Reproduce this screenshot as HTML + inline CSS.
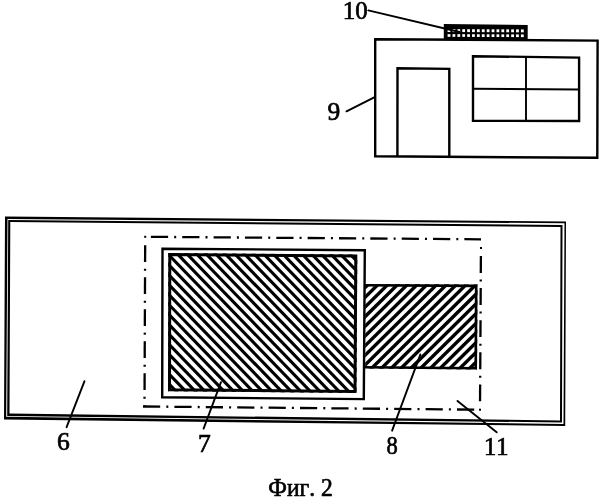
<!DOCTYPE html>
<html><head><meta charset="utf-8"><title>Фиг. 2</title>
<style>html,body{margin:0;padding:0;background:#fff}svg{display:block;will-change:transform}text{font-family:"Liberation Serif","DejaVu Serif",serif;fill:#000;font-kerning:none;stroke:#000;stroke-width:0.65px;paint-order:stroke}</style></head>
<body>
<svg width="604" height="500" viewBox="0 0 604 500">
<rect width="604" height="500" fill="#fff"/>
<polygon points="375.20,39.20 597.60,40.60 597.30,157.80 375.20,156.30" fill="none" stroke="#000" stroke-width="2.4" stroke-linejoin="miter" />
<polyline points="397.4,156.5 397.5,68.2 449.3,68.9 449.3,157" fill="none" stroke="#000" stroke-width="2.4"/>
<polygon points="473.00,56.20 579.10,57.60 579.10,121.00 473.00,120.80" fill="none" stroke="#000" stroke-width="2.4" stroke-linejoin="miter" />
<line x1="526.00" y1="57.00" x2="526.00" y2="121.00" stroke="#000" stroke-width="1.9" />
<line x1="473.00" y1="88.80" x2="579.00" y2="89.60" stroke="#000" stroke-width="2.0" />
<polygon points="443.8,23.9 527.7,24.9 527.7,40.5 443.8,39.5" fill="#000"/>
<rect x="447.60" y="29.12" width="2.8" height="2.90" fill="#fff"/>
<rect x="452.49" y="29.14" width="2.8" height="2.90" fill="#fff"/>
<rect x="457.38" y="29.16" width="2.8" height="2.90" fill="#fff"/>
<rect x="462.27" y="29.18" width="2.8" height="2.90" fill="#fff"/>
<rect x="467.16" y="29.20" width="2.8" height="2.90" fill="#fff"/>
<rect x="472.05" y="29.22" width="2.8" height="2.90" fill="#fff"/>
<rect x="476.94" y="29.24" width="2.8" height="2.90" fill="#fff"/>
<rect x="481.83" y="29.26" width="2.8" height="2.90" fill="#fff"/>
<rect x="486.72" y="29.28" width="2.8" height="2.90" fill="#fff"/>
<rect x="491.61" y="29.30" width="2.8" height="2.90" fill="#fff"/>
<rect x="496.50" y="29.32" width="2.8" height="2.90" fill="#fff"/>
<rect x="501.39" y="29.34" width="2.8" height="2.90" fill="#fff"/>
<rect x="506.28" y="29.36" width="2.8" height="2.90" fill="#fff"/>
<rect x="511.17" y="29.38" width="2.8" height="2.90" fill="#fff"/>
<rect x="516.06" y="29.40" width="2.8" height="2.90" fill="#fff"/>
<rect x="520.95" y="29.42" width="2.8" height="2.90" fill="#fff"/>
<rect x="447.60" y="34.12" width="2.8" height="2.70" fill="#fff"/>
<rect x="452.49" y="34.14" width="2.8" height="2.70" fill="#fff"/>
<rect x="457.38" y="34.16" width="2.8" height="2.70" fill="#fff"/>
<rect x="462.27" y="34.18" width="2.8" height="2.70" fill="#fff"/>
<rect x="467.16" y="34.20" width="2.8" height="2.70" fill="#fff"/>
<rect x="472.05" y="34.22" width="2.8" height="2.70" fill="#fff"/>
<rect x="476.94" y="34.24" width="2.8" height="2.70" fill="#fff"/>
<rect x="481.83" y="34.26" width="2.8" height="2.70" fill="#fff"/>
<rect x="486.72" y="34.28" width="2.8" height="2.70" fill="#fff"/>
<rect x="491.61" y="34.30" width="2.8" height="2.70" fill="#fff"/>
<rect x="496.50" y="34.32" width="2.8" height="2.70" fill="#fff"/>
<rect x="501.39" y="34.34" width="2.8" height="2.70" fill="#fff"/>
<rect x="506.28" y="34.36" width="2.8" height="2.70" fill="#fff"/>
<rect x="511.17" y="34.38" width="2.8" height="2.70" fill="#fff"/>
<rect x="516.06" y="34.40" width="2.8" height="2.70" fill="#fff"/>
<rect x="520.95" y="34.42" width="2.8" height="2.70" fill="#fff"/>
<line x1="368.30" y1="10.40" x2="459.50" y2="32.00" stroke="#000" stroke-width="1.8" stroke-linecap="round"/>
<line x1="346.50" y1="111.30" x2="374.70" y2="97.20" stroke="#000" stroke-width="1.95" stroke-linecap="round"/>
<path d="M5.00,216.50 L566.00,221.50 L565.20,426.00 L4.00,419.50Z M7.50,219.00 L564.50,223.30 L563.50,424.00 L6.20,416.80Z" fill="#000" fill-rule="evenodd"/>
<path d="M8.20,220.00 L562.50,225.00 L562.00,422.50 L7.20,416.00Z M10.30,222.00 L560.50,227.00 L560.00,420.50 L9.50,413.50Z" fill="#000" fill-rule="evenodd"/>
<rect x="144.20" y="235.80" width="2" height="2" fill="#000"/>
<line x1="150.90" y1="236.84" x2="168.10" y2="236.97" stroke="#000" stroke-width="2.3" />
<line x1="174.17" y1="237.02" x2="176.17" y2="237.03" stroke="#000" stroke-width="2.3" />
<line x1="182.25" y1="237.08" x2="199.45" y2="237.20" stroke="#000" stroke-width="2.3" />
<line x1="205.52" y1="237.25" x2="207.52" y2="237.26" stroke="#000" stroke-width="2.3" />
<line x1="213.60" y1="237.31" x2="230.80" y2="237.44" stroke="#000" stroke-width="2.3" />
<line x1="236.87" y1="237.48" x2="238.87" y2="237.50" stroke="#000" stroke-width="2.3" />
<line x1="244.95" y1="237.54" x2="262.15" y2="237.67" stroke="#000" stroke-width="2.3" />
<line x1="268.22" y1="237.72" x2="270.22" y2="237.73" stroke="#000" stroke-width="2.3" />
<line x1="276.30" y1="237.78" x2="293.50" y2="237.90" stroke="#000" stroke-width="2.3" />
<line x1="299.57" y1="237.95" x2="301.57" y2="237.96" stroke="#000" stroke-width="2.3" />
<line x1="307.65" y1="238.01" x2="324.85" y2="238.14" stroke="#000" stroke-width="2.3" />
<line x1="330.92" y1="238.18" x2="332.92" y2="238.20" stroke="#000" stroke-width="2.3" />
<line x1="338.99" y1="238.24" x2="356.19" y2="238.37" stroke="#000" stroke-width="2.3" />
<line x1="362.27" y1="238.42" x2="364.27" y2="238.43" stroke="#000" stroke-width="2.3" />
<line x1="370.34" y1="238.48" x2="387.54" y2="238.60" stroke="#000" stroke-width="2.3" />
<line x1="393.62" y1="238.65" x2="395.62" y2="238.66" stroke="#000" stroke-width="2.3" />
<line x1="401.69" y1="238.71" x2="418.89" y2="238.84" stroke="#000" stroke-width="2.3" />
<line x1="424.97" y1="238.88" x2="426.97" y2="238.90" stroke="#000" stroke-width="2.3" />
<line x1="433.04" y1="238.94" x2="450.24" y2="239.07" stroke="#000" stroke-width="2.3" />
<line x1="456.32" y1="239.12" x2="458.32" y2="239.13" stroke="#000" stroke-width="2.3" />
<line x1="464.39" y1="239.18" x2="481.00" y2="239.30" stroke="#000" stroke-width="2.3" />
<line x1="145.17" y1="245.20" x2="145.10" y2="262.10" stroke="#000" stroke-width="2.3" />
<line x1="145.07" y1="268.65" x2="145.06" y2="270.65" stroke="#000" stroke-width="2.3" />
<line x1="145.03" y1="277.20" x2="144.96" y2="294.10" stroke="#000" stroke-width="2.3" />
<line x1="144.94" y1="300.65" x2="144.93" y2="302.65" stroke="#000" stroke-width="2.3" />
<line x1="144.90" y1="309.20" x2="144.83" y2="326.10" stroke="#000" stroke-width="2.3" />
<line x1="144.80" y1="332.65" x2="144.80" y2="334.65" stroke="#000" stroke-width="2.3" />
<line x1="144.77" y1="341.20" x2="144.70" y2="358.10" stroke="#000" stroke-width="2.3" />
<line x1="144.67" y1="364.65" x2="144.66" y2="366.65" stroke="#000" stroke-width="2.3" />
<line x1="144.64" y1="373.20" x2="144.57" y2="390.10" stroke="#000" stroke-width="2.3" />
<line x1="144.54" y1="396.65" x2="144.53" y2="398.65" stroke="#000" stroke-width="2.3" />
<line x1="144.51" y1="405.20" x2="144.50" y2="406.50" stroke="#000" stroke-width="2.3" />
<line x1="480.90" y1="256.00" x2="480.80" y2="272.90" stroke="#000" stroke-width="2.3" />
<line x1="480.76" y1="279.50" x2="480.75" y2="281.50" stroke="#000" stroke-width="2.3" />
<line x1="480.71" y1="288.10" x2="480.61" y2="305.00" stroke="#000" stroke-width="2.3" />
<line x1="480.58" y1="311.60" x2="480.56" y2="313.60" stroke="#000" stroke-width="2.3" />
<line x1="480.53" y1="320.20" x2="480.43" y2="337.10" stroke="#000" stroke-width="2.3" />
<line x1="480.39" y1="343.70" x2="480.38" y2="345.70" stroke="#000" stroke-width="2.3" />
<line x1="480.34" y1="352.30" x2="480.24" y2="369.20" stroke="#000" stroke-width="2.3" />
<line x1="480.20" y1="375.80" x2="480.19" y2="377.80" stroke="#000" stroke-width="2.3" />
<line x1="480.15" y1="384.40" x2="480.05" y2="401.30" stroke="#000" stroke-width="2.3" />
<rect x="480.00" y="247.00" width="2" height="2" fill="#000"/>
<line x1="143.00" y1="406.50" x2="160.20" y2="406.66" stroke="#000" stroke-width="2.3" />
<line x1="166.30" y1="406.72" x2="168.30" y2="406.74" stroke="#000" stroke-width="2.3" />
<line x1="174.40" y1="406.80" x2="191.60" y2="406.96" stroke="#000" stroke-width="2.3" />
<line x1="197.70" y1="407.02" x2="199.70" y2="407.04" stroke="#000" stroke-width="2.3" />
<line x1="205.80" y1="407.10" x2="223.00" y2="407.26" stroke="#000" stroke-width="2.3" />
<line x1="229.10" y1="407.32" x2="231.10" y2="407.34" stroke="#000" stroke-width="2.3" />
<line x1="237.20" y1="407.39" x2="254.39" y2="407.56" stroke="#000" stroke-width="2.3" />
<line x1="260.49" y1="407.62" x2="262.49" y2="407.63" stroke="#000" stroke-width="2.3" />
<line x1="268.59" y1="407.69" x2="285.79" y2="407.86" stroke="#000" stroke-width="2.3" />
<line x1="291.89" y1="407.91" x2="293.89" y2="407.93" stroke="#000" stroke-width="2.3" />
<line x1="299.99" y1="407.99" x2="317.19" y2="408.15" stroke="#000" stroke-width="2.3" />
<line x1="323.29" y1="408.21" x2="325.29" y2="408.23" stroke="#000" stroke-width="2.3" />
<line x1="331.39" y1="408.29" x2="348.59" y2="408.45" stroke="#000" stroke-width="2.3" />
<line x1="354.69" y1="408.51" x2="356.69" y2="408.53" stroke="#000" stroke-width="2.3" />
<line x1="362.79" y1="408.59" x2="379.99" y2="408.75" stroke="#000" stroke-width="2.3" />
<line x1="386.09" y1="408.81" x2="388.09" y2="408.83" stroke="#000" stroke-width="2.3" />
<line x1="394.19" y1="408.89" x2="411.39" y2="409.05" stroke="#000" stroke-width="2.3" />
<line x1="417.49" y1="409.11" x2="419.49" y2="409.13" stroke="#000" stroke-width="2.3" />
<line x1="425.59" y1="409.18" x2="442.79" y2="409.35" stroke="#000" stroke-width="2.3" />
<line x1="448.89" y1="409.40" x2="450.89" y2="409.42" stroke="#000" stroke-width="2.3" />
<line x1="456.99" y1="409.48" x2="474.19" y2="409.64" stroke="#000" stroke-width="2.3" />
<rect x="479.00" y="408.70" width="2" height="2" fill="#000"/>
<polygon points="162.50,248.70 364.80,250.20 363.80,399.10 162.20,397.30" fill="none" stroke="#000" stroke-width="2.4" stroke-linejoin="miter" />
<clipPath id="c7"><polygon points="168.30,253.00 357.30,254.50 356.50,393.00 168.00,391.30"/></clipPath>
<g clip-path="url(#c7)" stroke="#000" stroke-width="2.75">
<line x1="-219.26" y1="240.00" x2="-64.52" y2="400.00" stroke="#000" stroke-width="3.1" />
<line x1="-209.68" y1="240.00" x2="-54.94" y2="400.00" stroke="#000" stroke-width="3.1" />
<line x1="-200.10" y1="240.00" x2="-45.36" y2="400.00" stroke="#000" stroke-width="3.1" />
<line x1="-190.52" y1="240.00" x2="-35.78" y2="400.00" stroke="#000" stroke-width="3.1" />
<line x1="-180.94" y1="240.00" x2="-26.20" y2="400.00" stroke="#000" stroke-width="3.1" />
<line x1="-171.36" y1="240.00" x2="-16.62" y2="400.00" stroke="#000" stroke-width="3.1" />
<line x1="-161.78" y1="240.00" x2="-7.04" y2="400.00" stroke="#000" stroke-width="3.1" />
<line x1="-152.20" y1="240.00" x2="2.54" y2="400.00" stroke="#000" stroke-width="3.1" />
<line x1="-142.62" y1="240.00" x2="12.12" y2="400.00" stroke="#000" stroke-width="3.1" />
<line x1="-133.04" y1="240.00" x2="21.70" y2="400.00" stroke="#000" stroke-width="3.1" />
<line x1="-123.46" y1="240.00" x2="31.28" y2="400.00" stroke="#000" stroke-width="3.1" />
<line x1="-113.88" y1="240.00" x2="40.86" y2="400.00" stroke="#000" stroke-width="3.1" />
<line x1="-104.30" y1="240.00" x2="50.44" y2="400.00" stroke="#000" stroke-width="3.1" />
<line x1="-94.72" y1="240.00" x2="60.02" y2="400.00" stroke="#000" stroke-width="3.1" />
<line x1="-85.14" y1="240.00" x2="69.60" y2="400.00" stroke="#000" stroke-width="3.1" />
<line x1="-75.56" y1="240.00" x2="79.18" y2="400.00" stroke="#000" stroke-width="3.1" />
<line x1="-65.98" y1="240.00" x2="88.76" y2="400.00" stroke="#000" stroke-width="3.1" />
<line x1="-56.40" y1="240.00" x2="98.34" y2="400.00" stroke="#000" stroke-width="3.1" />
<line x1="-46.82" y1="240.00" x2="107.92" y2="400.00" stroke="#000" stroke-width="3.1" />
<line x1="-37.24" y1="240.00" x2="117.50" y2="400.00" stroke="#000" stroke-width="3.1" />
<line x1="-27.66" y1="240.00" x2="127.08" y2="400.00" stroke="#000" stroke-width="3.1" />
<line x1="-18.08" y1="240.00" x2="136.66" y2="400.00" stroke="#000" stroke-width="3.1" />
<line x1="-8.50" y1="240.00" x2="146.24" y2="400.00" stroke="#000" stroke-width="3.1" />
<line x1="1.08" y1="240.00" x2="155.82" y2="400.00" stroke="#000" stroke-width="3.1" />
<line x1="10.66" y1="240.00" x2="165.40" y2="400.00" stroke="#000" stroke-width="3.1" />
<line x1="20.24" y1="240.00" x2="174.98" y2="400.00" stroke="#000" stroke-width="3.1" />
<line x1="29.82" y1="240.00" x2="184.56" y2="400.00" stroke="#000" stroke-width="3.1" />
<line x1="39.40" y1="240.00" x2="194.14" y2="400.00" stroke="#000" stroke-width="3.1" />
<line x1="48.98" y1="240.00" x2="203.72" y2="400.00" stroke="#000" stroke-width="3.1" />
<line x1="58.56" y1="240.00" x2="213.30" y2="400.00" stroke="#000" stroke-width="3.1" />
<line x1="68.14" y1="240.00" x2="222.88" y2="400.00" stroke="#000" stroke-width="3.1" />
<line x1="77.72" y1="240.00" x2="232.46" y2="400.00" stroke="#000" stroke-width="3.1" />
<line x1="87.30" y1="240.00" x2="242.04" y2="400.00" stroke="#000" stroke-width="3.1" />
<line x1="96.88" y1="240.00" x2="251.62" y2="400.00" stroke="#000" stroke-width="3.1" />
<line x1="106.46" y1="240.00" x2="261.20" y2="400.00" stroke="#000" stroke-width="3.1" />
<line x1="116.04" y1="240.00" x2="270.78" y2="400.00" stroke="#000" stroke-width="3.1" />
<line x1="125.62" y1="240.00" x2="280.36" y2="400.00" stroke="#000" stroke-width="3.1" />
<line x1="135.20" y1="240.00" x2="289.94" y2="400.00" stroke="#000" stroke-width="3.1" />
<line x1="144.78" y1="240.00" x2="299.52" y2="400.00" stroke="#000" stroke-width="3.1" />
<line x1="154.36" y1="240.00" x2="309.10" y2="400.00" stroke="#000" stroke-width="3.1" />
<line x1="163.94" y1="240.00" x2="318.68" y2="400.00" stroke="#000" stroke-width="3.1" />
<line x1="173.52" y1="240.00" x2="328.26" y2="400.00" stroke="#000" stroke-width="3.1" />
<line x1="183.10" y1="240.00" x2="337.84" y2="400.00" stroke="#000" stroke-width="3.1" />
<line x1="192.68" y1="240.00" x2="347.42" y2="400.00" stroke="#000" stroke-width="3.1" />
<line x1="202.26" y1="240.00" x2="357.00" y2="400.00" stroke="#000" stroke-width="3.1" />
<line x1="211.84" y1="240.00" x2="366.58" y2="400.00" stroke="#000" stroke-width="3.1" />
<line x1="221.42" y1="240.00" x2="376.16" y2="400.00" stroke="#000" stroke-width="3.1" />
<line x1="231.00" y1="240.00" x2="385.74" y2="400.00" stroke="#000" stroke-width="3.1" />
<line x1="240.58" y1="240.00" x2="395.32" y2="400.00" stroke="#000" stroke-width="3.1" />
<line x1="250.16" y1="240.00" x2="404.90" y2="400.00" stroke="#000" stroke-width="3.1" />
<line x1="259.74" y1="240.00" x2="414.48" y2="400.00" stroke="#000" stroke-width="3.1" />
<line x1="269.32" y1="240.00" x2="424.06" y2="400.00" stroke="#000" stroke-width="3.1" />
<line x1="278.90" y1="240.00" x2="433.64" y2="400.00" stroke="#000" stroke-width="3.1" />
<line x1="288.48" y1="240.00" x2="443.22" y2="400.00" stroke="#000" stroke-width="3.1" />
<line x1="298.06" y1="240.00" x2="452.80" y2="400.00" stroke="#000" stroke-width="3.1" />
<line x1="307.64" y1="240.00" x2="462.38" y2="400.00" stroke="#000" stroke-width="3.1" />
<line x1="317.22" y1="240.00" x2="471.96" y2="400.00" stroke="#000" stroke-width="3.1" />
<line x1="326.80" y1="240.00" x2="481.54" y2="400.00" stroke="#000" stroke-width="3.1" />
<line x1="336.38" y1="240.00" x2="491.12" y2="400.00" stroke="#000" stroke-width="3.1" />
<line x1="345.96" y1="240.00" x2="500.70" y2="400.00" stroke="#000" stroke-width="3.1" />
<line x1="355.54" y1="240.00" x2="510.28" y2="400.00" stroke="#000" stroke-width="3.1" />
<line x1="365.12" y1="240.00" x2="519.86" y2="400.00" stroke="#000" stroke-width="3.1" />
<line x1="374.70" y1="240.00" x2="529.44" y2="400.00" stroke="#000" stroke-width="3.1" />
<line x1="384.28" y1="240.00" x2="539.02" y2="400.00" stroke="#000" stroke-width="3.1" />
<line x1="393.86" y1="240.00" x2="548.60" y2="400.00" stroke="#000" stroke-width="3.1" />
<line x1="403.44" y1="240.00" x2="558.18" y2="400.00" stroke="#000" stroke-width="3.1" />
<line x1="413.02" y1="240.00" x2="567.76" y2="400.00" stroke="#000" stroke-width="3.1" />
<line x1="422.60" y1="240.00" x2="577.34" y2="400.00" stroke="#000" stroke-width="3.1" />
<line x1="432.18" y1="240.00" x2="586.92" y2="400.00" stroke="#000" stroke-width="3.1" />
<line x1="441.76" y1="240.00" x2="596.50" y2="400.00" stroke="#000" stroke-width="3.1" />
<line x1="451.34" y1="240.00" x2="606.08" y2="400.00" stroke="#000" stroke-width="3.1" />
<line x1="460.92" y1="240.00" x2="615.66" y2="400.00" stroke="#000" stroke-width="3.1" />
<line x1="470.50" y1="240.00" x2="625.24" y2="400.00" stroke="#000" stroke-width="3.1" />
<line x1="480.08" y1="240.00" x2="634.82" y2="400.00" stroke="#000" stroke-width="3.1" />
<line x1="489.66" y1="240.00" x2="644.40" y2="400.00" stroke="#000" stroke-width="3.1" />
<line x1="499.24" y1="240.00" x2="653.98" y2="400.00" stroke="#000" stroke-width="3.1" />
<line x1="508.82" y1="240.00" x2="663.56" y2="400.00" stroke="#000" stroke-width="3.1" />
<line x1="518.40" y1="240.00" x2="673.14" y2="400.00" stroke="#000" stroke-width="3.1" />
<line x1="527.98" y1="240.00" x2="682.72" y2="400.00" stroke="#000" stroke-width="3.1" />
<line x1="537.56" y1="240.00" x2="692.30" y2="400.00" stroke="#000" stroke-width="3.1" />
</g>
<polygon points="169.80,254.50 355.80,256.00 355.00,391.50 169.50,389.80" fill="none" stroke="#000" stroke-width="3.0" stroke-linejoin="miter" />
<clipPath id="c8"><polygon points="365.20,284.00 477.50,284.60 477.00,369.60 365.20,368.60"/></clipPath>
<g clip-path="url(#c8)">
<line x1="255.19" y1="280.00" x2="159.05" y2="375.00" stroke="#000" stroke-width="3.4" />
<line x1="264.99" y1="280.00" x2="168.85" y2="375.00" stroke="#000" stroke-width="3.4" />
<line x1="274.79" y1="280.00" x2="178.65" y2="375.00" stroke="#000" stroke-width="3.4" />
<line x1="284.59" y1="280.00" x2="188.45" y2="375.00" stroke="#000" stroke-width="3.4" />
<line x1="294.39" y1="280.00" x2="198.25" y2="375.00" stroke="#000" stroke-width="3.4" />
<line x1="304.19" y1="280.00" x2="208.05" y2="375.00" stroke="#000" stroke-width="3.4" />
<line x1="313.99" y1="280.00" x2="217.85" y2="375.00" stroke="#000" stroke-width="3.4" />
<line x1="323.79" y1="280.00" x2="227.65" y2="375.00" stroke="#000" stroke-width="3.4" />
<line x1="333.59" y1="280.00" x2="237.45" y2="375.00" stroke="#000" stroke-width="3.4" />
<line x1="343.39" y1="280.00" x2="247.25" y2="375.00" stroke="#000" stroke-width="3.4" />
<line x1="353.19" y1="280.00" x2="257.05" y2="375.00" stroke="#000" stroke-width="3.4" />
<line x1="362.99" y1="280.00" x2="266.85" y2="375.00" stroke="#000" stroke-width="3.4" />
<line x1="372.79" y1="280.00" x2="276.65" y2="375.00" stroke="#000" stroke-width="3.4" />
<line x1="382.59" y1="280.00" x2="286.45" y2="375.00" stroke="#000" stroke-width="3.4" />
<line x1="392.39" y1="280.00" x2="296.25" y2="375.00" stroke="#000" stroke-width="3.4" />
<line x1="402.19" y1="280.00" x2="306.05" y2="375.00" stroke="#000" stroke-width="3.4" />
<line x1="411.99" y1="280.00" x2="315.85" y2="375.00" stroke="#000" stroke-width="3.4" />
<line x1="421.79" y1="280.00" x2="325.65" y2="375.00" stroke="#000" stroke-width="3.4" />
<line x1="431.59" y1="280.00" x2="335.45" y2="375.00" stroke="#000" stroke-width="3.4" />
<line x1="441.39" y1="280.00" x2="345.25" y2="375.00" stroke="#000" stroke-width="3.4" />
<line x1="451.19" y1="280.00" x2="355.05" y2="375.00" stroke="#000" stroke-width="3.4" />
<line x1="460.99" y1="280.00" x2="364.85" y2="375.00" stroke="#000" stroke-width="3.4" />
<line x1="470.79" y1="280.00" x2="374.65" y2="375.00" stroke="#000" stroke-width="3.4" />
<line x1="480.59" y1="280.00" x2="384.45" y2="375.00" stroke="#000" stroke-width="3.4" />
<line x1="490.39" y1="280.00" x2="394.25" y2="375.00" stroke="#000" stroke-width="3.4" />
<line x1="500.19" y1="280.00" x2="404.05" y2="375.00" stroke="#000" stroke-width="3.4" />
<line x1="509.99" y1="280.00" x2="413.85" y2="375.00" stroke="#000" stroke-width="3.4" />
<line x1="519.79" y1="280.00" x2="423.65" y2="375.00" stroke="#000" stroke-width="3.4" />
<line x1="529.59" y1="280.00" x2="433.45" y2="375.00" stroke="#000" stroke-width="3.4" />
<line x1="539.39" y1="280.00" x2="443.25" y2="375.00" stroke="#000" stroke-width="3.4" />
<line x1="549.19" y1="280.00" x2="453.05" y2="375.00" stroke="#000" stroke-width="3.4" />
<line x1="558.99" y1="280.00" x2="462.85" y2="375.00" stroke="#000" stroke-width="3.4" />
<line x1="568.79" y1="280.00" x2="472.65" y2="375.00" stroke="#000" stroke-width="3.4" />
<line x1="578.59" y1="280.00" x2="482.45" y2="375.00" stroke="#000" stroke-width="3.4" />
<line x1="588.39" y1="280.00" x2="492.25" y2="375.00" stroke="#000" stroke-width="3.4" />
<line x1="598.19" y1="280.00" x2="502.05" y2="375.00" stroke="#000" stroke-width="3.4" />
<line x1="607.99" y1="280.00" x2="511.85" y2="375.00" stroke="#000" stroke-width="3.4" />
</g>
<polyline points="364.5,285.3 476.2,285.9 475.7,368.25 364.5,367.25" fill="none" stroke="#000" stroke-width="2.65" stroke-linejoin="miter"/>
<line x1="84.50" y1="381.20" x2="66.60" y2="427.20" stroke="#000" stroke-width="1.9" stroke-linecap="round"/>
<line x1="221.00" y1="382.20" x2="203.60" y2="428.60" stroke="#000" stroke-width="1.9" stroke-linecap="round"/>
<line x1="420.40" y1="354.40" x2="392.10" y2="430.70" stroke="#000" stroke-width="1.9" stroke-linecap="round"/>
<line x1="457.50" y1="400.90" x2="496.70" y2="432.30" stroke="#000" stroke-width="1.9" stroke-linecap="round"/>
<text transform="translate(342.8,19.0) scale(1.039,1.065)" font-size="24">10</text>
<text transform="translate(327.52,119.66) scale(1.065,1.065)" font-size="24">9</text>
<text transform="translate(57.0,449.66) scale(1.065,1.065)" font-size="24">6</text>
<text transform="translate(197.9,451.51) scale(1.065,1.065)" font-size="24">7</text>
<text transform="translate(386.4,453.66) scale(0.937,1.065)" font-size="24">8</text>
<text transform="translate(484.0,454.7) scale(1.02,1.065)" font-size="24">11</text>
<text transform="translate(268.32,495.5) scale(0.983,1.037)" font-size="24">Фиг. 2</text>
</svg></body></html>
